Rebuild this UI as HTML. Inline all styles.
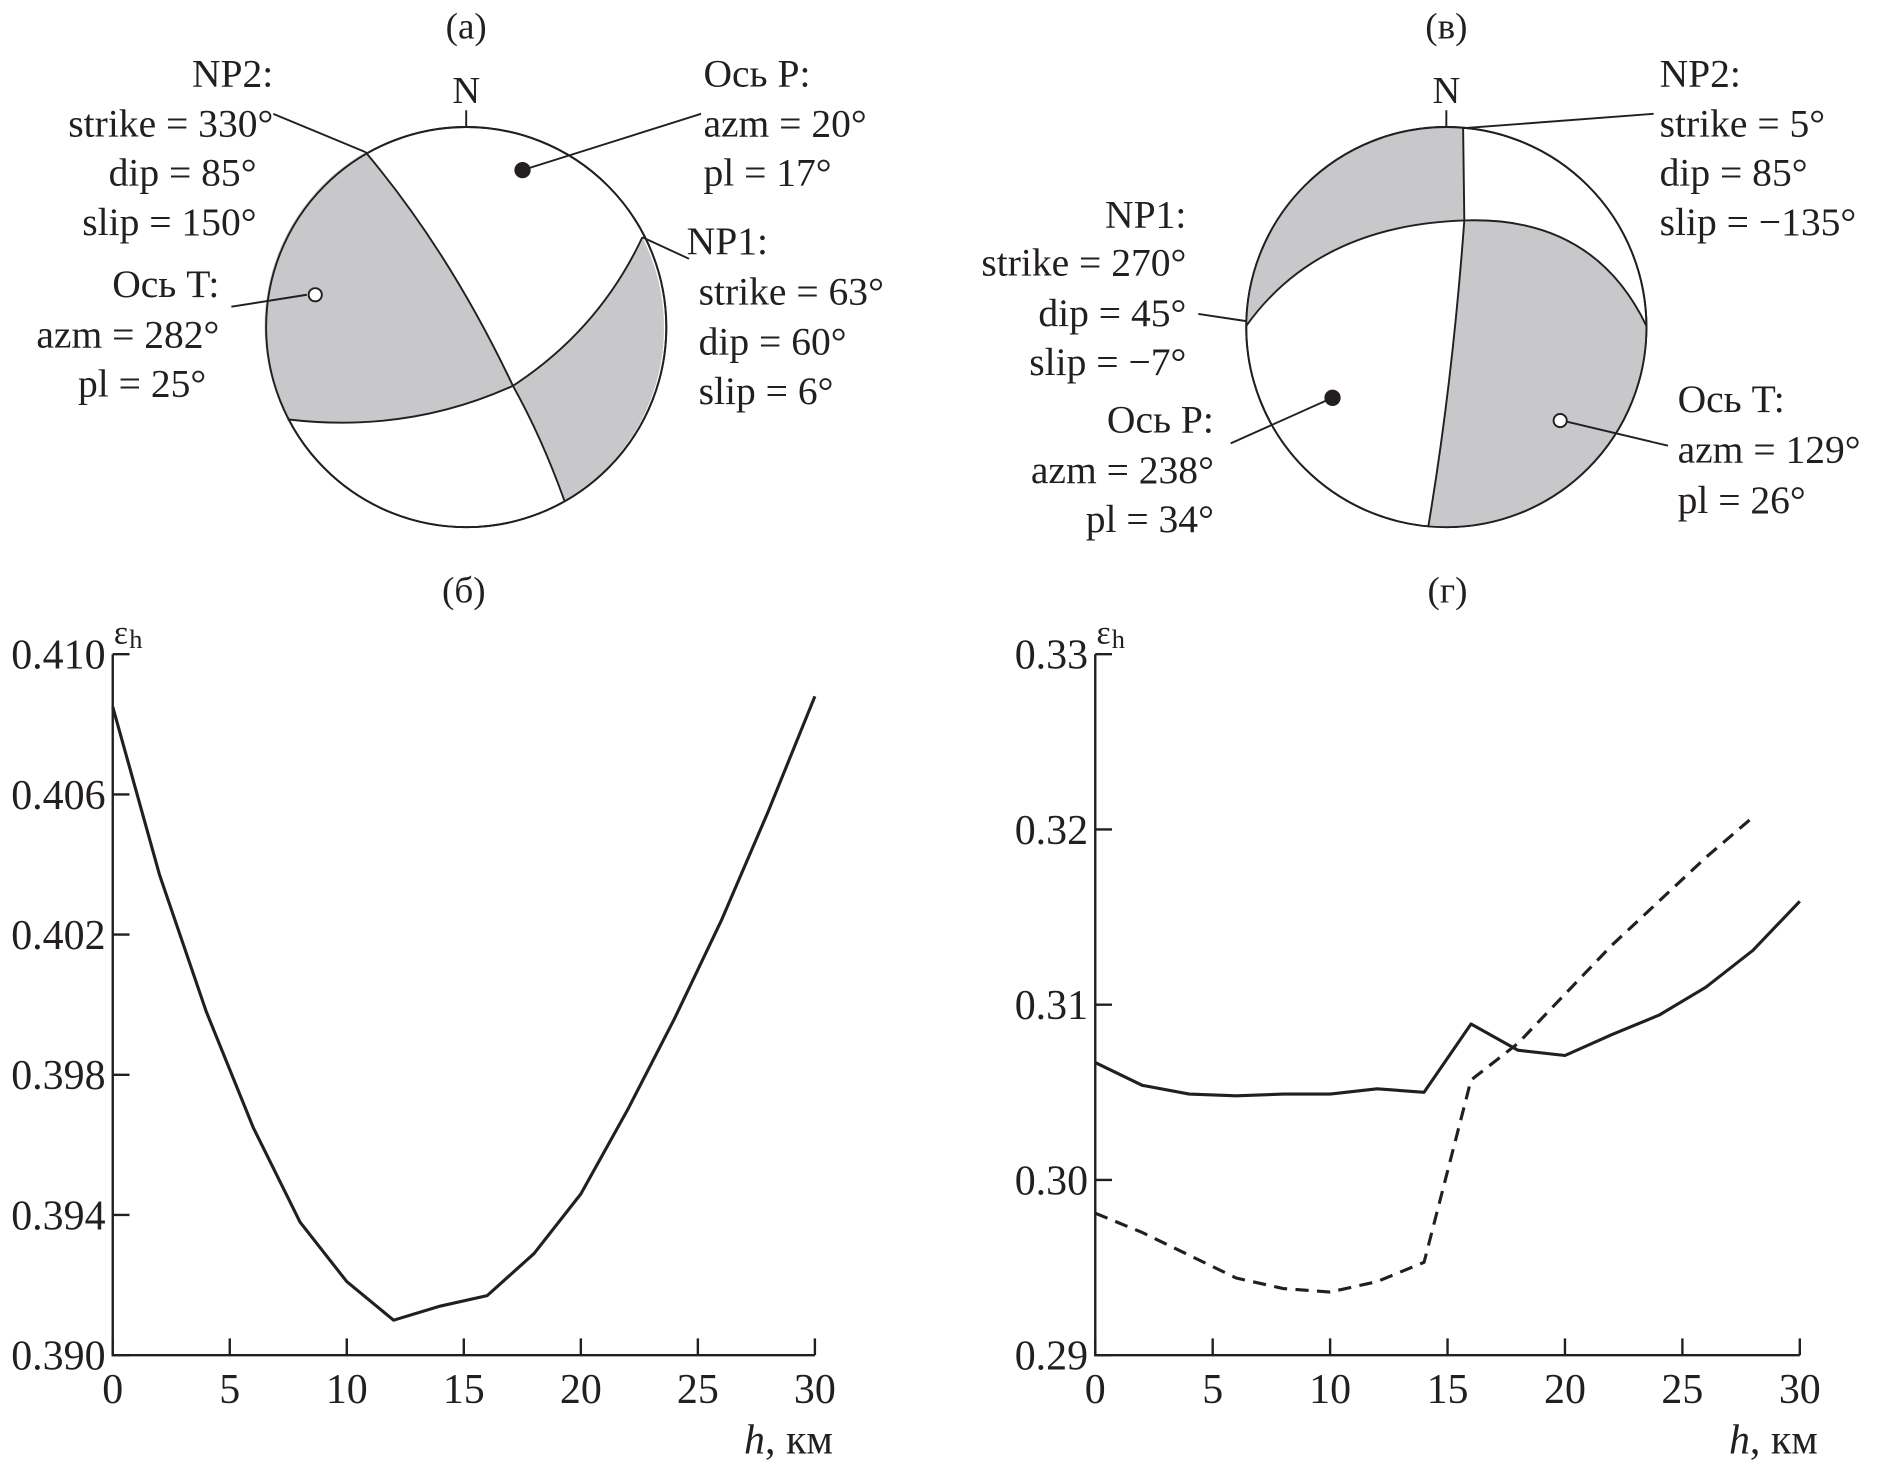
<!DOCTYPE html>
<html><head><meta charset="utf-8"><style>
html,body{margin:0;padding:0;background:#fff}
svg{display:block}
text{font-family:"Liberation Serif",serif;fill:#231f20}
</style></head><body>
<svg id="fig" width="1879" height="1469" viewBox="0 0 1568 1226">
<g stroke="#231f20" stroke-width="1.6" fill="none">
  <text x="389" y="32" font-size="31" text-anchor="middle" stroke="none">(а)</text>
  <text x="389" y="86" font-size="32" text-anchor="middle" stroke="none">N</text>
  <line x1="389" y1="92" x2="389" y2="106"/>
  <circle cx="389" cy="273" r="167" fill="#fff"/>
  <path d="M305,127 A167,167 0 0 0 240,350 Q340,362 428,322 Q375,210 305,127 Z" fill="#c8c8ca" stroke="none"/>
  <path d="M536,198 A167,167 0 0 1 471,418 Q452,365 428,322 Q500,275 536,198 Z" fill="#c8c8ca" stroke="none"/>
  <path d="M305,127 Q375,210 428,322 Q452,365 471,418 M240,350 Q340,362 428,322 Q500,275 536,198"/>
  <circle cx="389" cy="273" r="167"/>
  <line x1="305" y1="127" x2="228" y2="95"/>
  <line x1="536" y1="198" x2="575" y2="216"/>
  <line x1="436" y1="142" x2="585" y2="95"/>
  <circle cx="436" cy="142" r="6" fill="#231f20"/>
  <line x1="256" y1="246" x2="193" y2="256"/>
  <circle cx="263" cy="246" r="5.5" fill="#fff"/>
  <g stroke="none" font-size="33" text-anchor="end">
    <text x="228" y="72">NP2:</text><text x="228" y="114">strike = 330°</text><text x="214" y="155">dip = 85°</text><text x="214" y="196">slip = 150°</text>
  </g>
  <g stroke="none" font-size="33" text-anchor="end">
    <text x="183" y="248">Ось T:</text><text x="183" y="290">azm = 282°</text><text x="172" y="331">pl = 25°</text>
  </g>
  <g stroke="none" font-size="33">
    <text x="587" y="72">Ось P:</text><text x="587" y="114">azm = 20°</text><text x="587" y="155">pl = 17°</text>
  </g>
  <g stroke="none" font-size="33">
    <text x="573" y="212">NP1:</text><text x="583" y="254">strike = 63°</text><text x="583" y="296">dip = 60°</text><text x="583" y="337">slip = 6°</text>
  </g>
</g>

<g stroke="#231f20" stroke-width="1.6" fill="none">
  <text x="1207" y="32" font-size="31" text-anchor="middle" stroke="none">(в)</text>
  <text x="1207" y="86" font-size="32" text-anchor="middle" stroke="none">N</text>
  <line x1="1207" y1="92" x2="1207" y2="106"/>
  <circle cx="1207" cy="273" r="167" fill="#fff"/>
  <path d="M1221,107 A167,167 0 0 0 1040,272 Q1100,188 1222,184 Z" fill="#c8c8ca" stroke="none"/>
  <path d="M1222,184 Q1330,180 1374,272 A167,167 0 0 1 1192,439 Q1212,320 1222,184 Z" fill="#c8c8ca" stroke="none"/>
  <path d="M1221,107 L1222,184 Q1212,320 1192,439 M1040,272 Q1100,188 1222,184 Q1330,180 1374,272"/>
  <circle cx="1207" cy="273" r="167"/>
  <line x1="1221" y1="107" x2="1380" y2="95"/>
  <line x1="1040" y1="268" x2="1000" y2="262"/>
  <line x1="1112" y1="332" x2="1027" y2="370"/>
  <circle cx="1112" cy="332" r="6" fill="#231f20"/>
  <line x1="1308" y1="352" x2="1392" y2="372"/>
  <circle cx="1302" cy="351" r="5.5" fill="#fff"/>
  <g stroke="none" font-size="33">
    <text x="1385" y="72">NP2:</text><text x="1385" y="114">strike = 5°</text><text x="1385" y="155">dip = 85°</text><text x="1385" y="196">slip = −135°</text>
  </g>
  <g stroke="none" font-size="33" text-anchor="end">
    <text x="990" y="190">NP1:</text><text x="990" y="230">strike = 270°</text><text x="990" y="272">dip = 45°</text><text x="990" y="313">slip = −7°</text>
  </g>
  <g stroke="none" font-size="33" text-anchor="end">
    <text x="1013" y="361">Ось P:</text><text x="1013" y="403">azm = 238°</text><text x="1013" y="444">pl = 34°</text>
  </g>
  <g stroke="none" font-size="33">
    <text x="1400" y="344">Ось T:</text><text x="1400" y="386">azm = 129°</text><text x="1400" y="428">pl = 26°</text>
  </g>
</g>

<g id="chartB"></g>
<g id="chartG"></g>
</svg>
<script>
const xTicks = [0, 5, 10, 15, 20, 25, 30];
const hValues = [0, 2, 4, 6, 8, 10, 12, 14, 16, 18, 20, 22, 24, 26, 28, 30];
const bTicks = ["0.390", "0.394", "0.398", "0.402", "0.406", "0.410"];
const bSolid = [0.4085, 0.4037, 0.3998, 0.3965, 0.3938, 0.3921, 0.3910, 0.3914, 0.3917, 0.3929, 0.3946, 0.3970, 0.3996, 0.4024, 0.4055, 0.4088];
const gTicks = ["0.29", "0.30", "0.31", "0.32", "0.33"];
const gSolid = [0.3067, 0.3054, 0.3049, 0.3048, 0.3049, 0.3049, 0.3052, 0.3050, 0.3089, 0.3074, 0.3071, 0.3083, 0.3094, 0.3110, 0.3131, 0.3159];
const hDashed = [0, 2, 4, 6, 8, 10, 12, 14, 16, 18, 20, 22, 24, 26, 28];
const gDashed = [0.2981, 0.2970, 0.2957, 0.2944, 0.2938, 0.2936, 0.2942, 0.2953, 0.3057, 0.3078, 0.3106, 0.3134, 0.3159, 0.3184, 0.3207];

const NS = "http://www.w3.org/2000/svg";
function mk(parent, tag, attrs, txt) {
  const e = document.createElementNS(NS, tag);
  for (const k in attrs) e.setAttribute(k, attrs[k]);
  if (txt !== undefined) e.textContent = txt;
  parent.appendChild(e);
  return e;
}
function drawChart(g, cfg) {
  const yMin = parseFloat(cfg.yTicks[0]), yMax = parseFloat(cfg.yTicks[cfg.yTicks.length - 1]);
  const X = v => cfg.x0 + (v - 0) / 30 * (cfg.x1 - cfg.x0);
  const Y = v => cfg.yb - (v - yMin) / (yMax - yMin) * (cfg.yb - cfg.yt);
  const title = mk(g, "text", {x: (cfg.x0 + cfg.x1) / 2, y: 503, "font-size": 31, "text-anchor": "middle"}, cfg.label);
  
  
  const ax = mk(g, "path", {d: `M${cfg.x0},${cfg.yt} V${cfg.yb} H${cfg.x1}`, stroke: "#231f20", "stroke-width": 2, fill: "none"});
  
  
  cfg.yTicks.forEach(t => {
    const y = Y(parseFloat(t));
    const tk = mk(g, "line", {x1: cfg.x0, x2: cfg.x0 + 14, y1: y, y2: y, stroke: "#231f20", "stroke-width": 2});
    
    
    const tl = mk(g, "text", {x: cfg.x0 - 6, y: y + 12, "font-size": 35, "text-anchor": "end"}, t);
    
    
  });
  xTicks.forEach(t => {
    const x = X(t);
    const tk = mk(g, "line", {x1: x, x2: x, y1: cfg.yb, y2: cfg.yb - 14, stroke: "#231f20", "stroke-width": 2});
    
    
    const tl = mk(g, "text", {x: x, y: cfg.yb + 40, "font-size": 35, "text-anchor": "middle"}, String(t));
    
    
  });
  const yl = mk(g, "text", {x: cfg.x0 + 1, y: cfg.yt - 9, "font-size": 28}, "ε");
  
  
  mk(yl, "tspan", {"font-size": 22, dx: 1, dy: 4}, "h");
  const xl = mk(g, "text", {x: cfg.x1 + 15, y: cfg.yb + 82, "font-size": 35, "text-anchor": "end"});
  
  
  mk(xl, "tspan", {"font-style": "italic"}, "h");
  mk(xl, "tspan", {}, ", км");
  cfg.series.forEach(s => {
    const d = s.ys.map((v, i) => (i ? "L" : "M") + X(s.xs[i]).toFixed(1) + "," + Y(v).toFixed(1)).join(" ");
    const p = mk(g, "path", {d: d, stroke: "#231f20", "stroke-width": 2.6, fill: "none", "stroke-linejoin": "round"});
    if (s.dash) p.setAttribute("stroke-dasharray", "11 7");
    
    
  });
}
drawChart(document.getElementById("chartB"), {label: "(б)", x0: 94, x1: 680, yt: 546, yb: 1131, yTicks: bTicks,
  series: [{xs: hValues, ys: bSolid, name: "line-solid-b"}]});
drawChart(document.getElementById("chartG"), {label: "(г)", x0: 914, x1: 1502, yt: 546, yb: 1131, yTicks: gTicks,
  series: [{xs: hValues, ys: gSolid, name: "line-solid-g"}, {xs: hDashed, ys: gDashed, dash: true, name: "line-dashed-g"}]});
</script>
</body></html>
